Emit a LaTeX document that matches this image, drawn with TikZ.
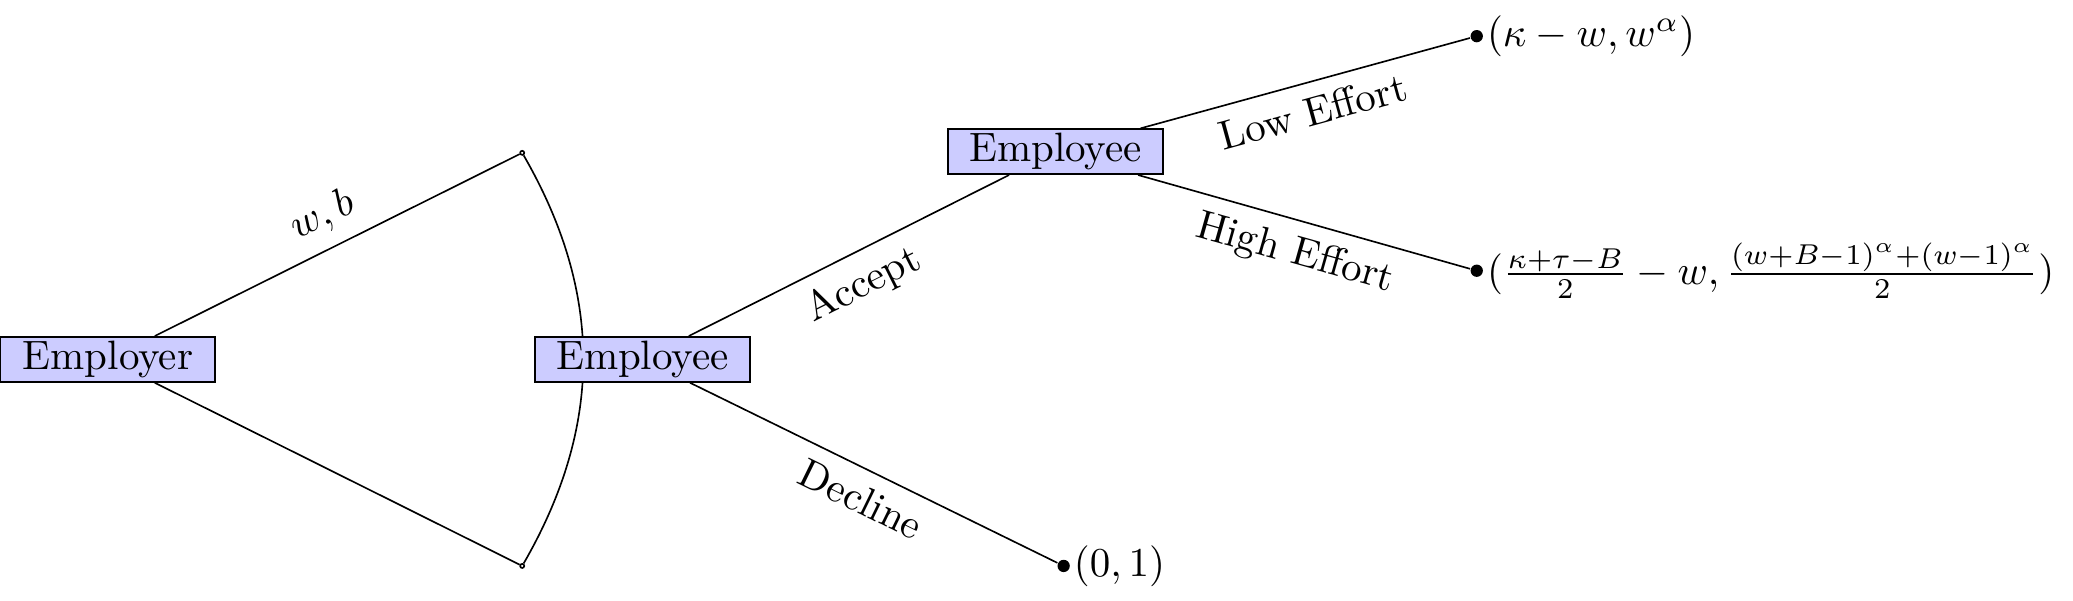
\documentclass[tikz,border=0pt]{standalone}
\usepackage{amsmath}
\begin{document}
\begin{tikzpicture}[
          player/.style={draw, fill=blue!20, minimum width=1.84cm, inner sep=1pt},
          infopt/.style={circle, draw, fill=white, inner sep=0pt, minimum size=1pt},
          endpt/.style={circle, fill, inner sep=0pt, minimum size=3pt},
          payoff/.style={inner sep=0.6pt},
          move/.style={midway, sloped}
        ]
        \useasboundingbox (-0.925,-2.07) rectangle (16.84,3.08);

        % Information set
        \node[infopt] (wbtop) at (3.55,1.77) {};
        \node[infopt] (wbbot) at (3.55,-1.77) {};
        \draw (wbtop) to[bend left] (wbbot);

        % Players
        \node[player] (employer) at (0,0) {Employer};
        \node[player] (employee) at (4.58,0) {Employee};
        \node[player] (worker) at (8.12,1.78) {Employee};

        % Terminal nodes
        \node[endpt, label={[payoff]right:$(0,1)$}] (decline) at (8.19,-1.77) {};
        \node[endpt, label={[payoff]right:$(\kappa-w,w^{\alpha})$}] (low) at (11.73,2.77) {};
        \node[endpt, label={[payoff]right:$(\frac{\kappa+\tau-B}{2}-w,\frac{(w+B-1)^{\alpha}+(w-1)^{\alpha}}{2})$}] (high) at (11.73,0.76) {};

        % Employer moves
        \draw (employer) -- node[move, above] {$w,b$} (wbtop);
        \draw (employer) -- (wbbot);

        % Employee moves
        \draw (employee) -- node[move, below] {Accept} (worker);
        \draw (employee) -- node[move, below] {Decline} (decline);
        \draw (worker) -- node[move, below] {Low Effort} (low);
        \draw (worker) -- node[move, below] {High Effort} (high);

      \end{tikzpicture}
\end{document}
